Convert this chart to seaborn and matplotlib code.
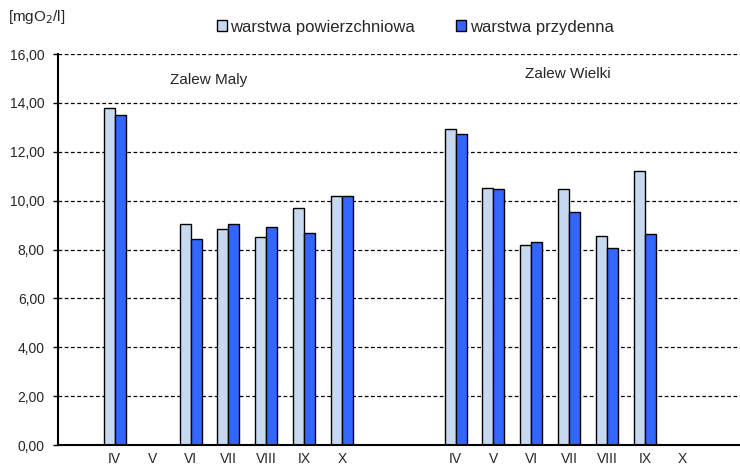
import pandas as pd
import numpy as np
import matplotlib
matplotlib.use('Agg')
import matplotlib.pyplot as plt
import seaborn as sns

miesiace = ['IV', 'V', 'VI', 'VII', 'VIII', 'IX', 'X']
maly_pow = [13.79, None, 9.04, 8.84, 8.51, 9.70, 10.19]
maly_przy = [13.50, None, 8.43, 9.04, 8.92, 8.67, 10.19]
wielki_pow = [12.93, 10.52, 8.18, 10.47, 8.55, 11.21, None]
wielki_przy = [12.72, 10.47, 8.31, 9.53, 8.06, 8.63, None]
warstwy = ['warstwa powierzchniowa', 'warstwa przydenna']
kolory = ['#C6D9F1', '#3366FF']

# sloty na osi: pusty, Zalew Maly, 2 puste, Zalew Wielki, pusty
sloty = ['p0'] + ['M_' + m for m in miesiace] + ['p1', 'p2'] + ['W_' + m for m in miesiace] + ['p3']
etykiety = ['' if s.startswith('p') else s[2:] for s in sloty]

rows = []
for pref, pow_, przy in [('M_', maly_pow, maly_przy), ('W_', wielki_pow, wielki_przy)]:
    for m, a, b in zip(miesiace, pow_, przy):
        if a is not None:
            rows.append({'slot': pref + m, 'warstwa': warstwy[0], 'val': a})
        if b is not None:
            rows.append({'slot': pref + m, 'warstwa': warstwy[1], 'val': b})
df = pd.DataFrame(rows)

sns.set_style('white')
plt.rcParams['font.family'] = ['Liberation Sans', 'DejaVu Sans']

fig = plt.figure(figsize=(7.4, 4.67), dpi=100)
ax = fig.add_axes([0.0784, 0.0471, 0.921, 0.837])

sns.barplot(data=df, x='slot', y='val', hue='warstwa', order=sloty, hue_order=warstwy,
            palette=kolory, saturation=1, width=0.58, edgecolor='black', linewidth=1, ax=ax)

ax.set_ylim(0, 16)
ax.set_xlim(-0.5, len(sloty) - 0.5)
ax.set_yticks(np.arange(0, 17, 2))
ax.set_yticklabels([f'{v:.2f}'.replace('.', ',') for v in np.arange(0, 17, 2)], fontsize=10)
for v in np.arange(2, 17, 2):
    ax.axhline(v, color='black', linestyle=(0, (3, 2)), linewidth=0.9, zorder=0)

ax.set_xticks(range(len(sloty)))
ax.set_xticklabels(etykiety, fontsize=10)
ax.tick_params(axis='x', which='major', length=0, pad=5)
ax.set_xticks(np.arange(-0.5, len(sloty), 1), minor=True)
ax.tick_params(axis='x', which='minor', length=3, width=1, direction='out', color='black')
ax.tick_params(axis='y', length=3.5, width=1, direction='out', color='black', left=True, pad=6)
ax.set_xlabel('')
ax.set_ylabel('')

for s in ['top', 'right']:
    ax.spines[s].set_visible(False)
for s in ['left', 'bottom']:
    ax.spines[s].set_color('black')
    ax.spines[s].set_linewidth(1.5)

ax.text(0.221, 0.933, 'Zalew Maly', transform=ax.transAxes, ha='center', va='center', fontsize=11)
ax.text(0.748, 0.949, 'Zalew Wielki', transform=ax.transAxes, ha='center', va='center', fontsize=11)

ax.legend_.remove()
handles = [plt.Rectangle((0, 0), 1, 1, facecolor=c, edgecolor='black', linewidth=1) for c in kolory]
fig.legend(handles, warstwy, loc='center', bbox_to_anchor=(0.561, 0.942), ncol=2, frameon=False,
           fontsize=12, handlelength=0.6, handleheight=0.6, handletextpad=0.2, columnspacing=2.5)

fig.text(8 / 740, 1 - 17 / 467, '[mgO$_2$/l]', fontsize=11, ha='left', va='center')

plt.savefig('out.png', dpi=100)
